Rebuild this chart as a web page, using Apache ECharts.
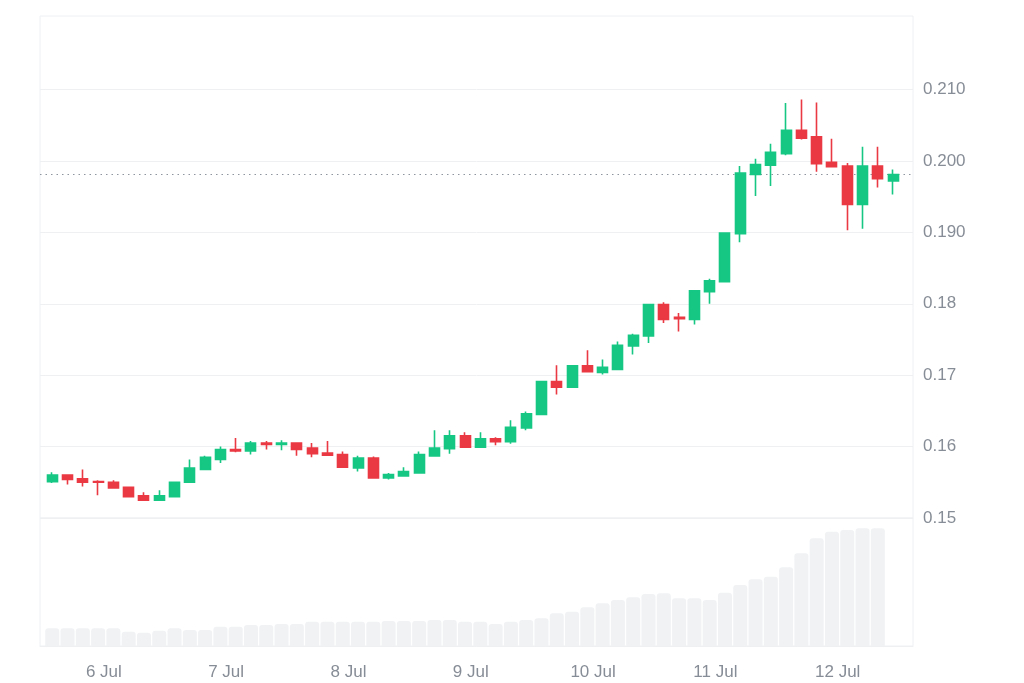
<!DOCTYPE html>
<html>
<head>
<meta charset="utf-8">
<script src="https://cdn.jsdelivr.net/npm/echarts@6/dist/echarts.min.js"></script>
<style>
  html, body { margin: 0; padding: 0; background: #ffffff; }
  #chart { width: 1024px; height: 683px; }
</style>
</head>
<body>
<div id="chart"></div>
<script>
// 3-hour candles, 5 Jul – 12 Jul
const opens  = [0.1551,0.1560,0.1555,0.1551,0.1550,0.1543,0.1531,0.1525,0.1530,0.1550,
                0.1568,0.1582,0.1596,0.1594,0.1605,0.1603,0.1605,0.1598,0.1591,0.1589,
                0.1570,0.1584,0.1556,0.1559,0.1563,0.1587,0.1597,0.1615,0.1599,0.1611,
                0.1607,0.1626,0.1645,0.1691,0.1683,0.1713,0.1704,0.1708,0.1741,0.1755,
                0.1799,0.1781,0.1778,0.1817,0.1831,0.1898,0.1981,0.1994,0.2010,0.2043,
                0.2034,0.1998,0.1993,0.1939,0.1993,0.1972];
const closes = [0.1560,0.1554,0.1550,0.1550,0.1542,0.1530,0.1525,0.1531,0.1550,0.1570,
                0.1585,0.1596,0.1594,0.1605,0.1603,0.1605,0.1596,0.1590,0.1588,0.1571,
                0.1584,0.1556,0.1561,0.1565,0.1589,0.1598,0.1615,0.1599,0.1611,0.1607,
                0.1627,0.1646,0.1691,0.1683,0.1713,0.1705,0.1711,0.1742,0.1756,0.1799,
                0.1778,0.1779,0.1818,0.1832,0.1899,0.1983,0.1995,0.2012,0.2043,0.2032,
                0.1996,0.1992,0.1939,0.1993,0.1975,0.1981];
const lows   = [0.1549,0.1547,0.1544,0.1532,0.1541,0.1530,0.1524,0.1524,0.1530,0.1549,
                0.1568,0.1577,0.1592,0.1589,0.1596,0.1595,0.1587,0.1585,0.1587,0.1570,
                0.1565,0.1556,0.1554,0.1558,0.1562,0.1586,0.1590,0.1599,0.1599,0.1602,
                0.1604,0.1623,0.1645,0.1673,0.1683,0.1704,0.1701,0.1707,0.1729,0.1745,
                0.1773,0.1761,0.1771,0.1800,0.1830,0.1886,0.1951,0.1965,0.2008,0.2030,
                0.1985,0.1992,0.1903,0.1905,0.1963,0.1953];
const highs  = [0.1564,0.1560,0.1568,0.1553,0.1553,0.1543,0.1536,0.1539,0.1551,0.1582,
                0.1587,0.1600,0.1612,0.1608,0.1608,0.1609,0.1605,0.1605,0.1608,0.1593,
                0.1587,0.1586,0.1563,0.1571,0.1593,0.1623,0.1623,0.1620,0.1620,0.1613,
                0.1637,0.1649,0.1691,0.1714,0.1713,0.1735,0.1722,0.1747,0.1758,0.1800,
                0.1802,0.1787,0.1818,0.1835,0.1899,0.1993,0.2003,0.2024,0.2081,0.2086,
                0.2082,0.2031,0.1997,0.2020,0.2020,0.1988];
// rolling volume (relative units)
const volumes = [17.7,17.7,17.7,17.7,17.7,14.3,13.3,15.3,17.7,16,
                 16,19.3,19.3,21,21,22,22,24.3,24.3,24.3,
                 24.3,24.3,25,25,25,26,26,24.3,24.3,22,
                 24.3,26,27.7,32.7,34.3,38.7,42.7,46,48.7,52,
                 52.7,47.7,47.7,46,53.3,61,66.7,69.3,78.7,92.7,
                 107.7,114.3,116,117.7,117.7];
// axis ticks
const yTickValues = [0.15, 0.16, 0.17, 0.18, 0.19, 0.20, 0.21];
const yTickLabels = ['0.15', '0.16', '0.17', '0.18', '0.190', '0.200', '0.210'];
const dayPositions = [3.375, 11.375, 19.375, 27.375, 35.375, 43.375, 51.375]; // in candle-index units
const dayLabels = ['6 Jul', '7 Jul', '8 Jul', '9 Jul', '10 Jul', '11 Jul', '12 Jul'];

const candleData = opens.map((o, i) => [i, o, closes[i], lows[i], highs[i]]);
const volumeData = volumes.map((v, i) => [i, v]);
const lastClose = closes[closes.length - 1];

const GRID = '#eef0f2';
const LABEL = '#878d96';
const FONT = "'Liberation Sans', Arial, sans-serif";
const X_MIN = -0.8, X_MAX = 56.3;

const chart = echarts.init(document.getElementById('chart'), null, { renderer: 'canvas' });
chart.setOption({
  animation: false,
  backgroundColor: '#ffffff',
  grid: [
    { left: 40, right: 111, top: 16, height: 502, show: true, borderColor: GRID, borderWidth: 1, backgroundColor: 'transparent' },
    { left: 40, right: 111, top: 518, height: 128, show: true, borderColor: GRID, borderWidth: 1, backgroundColor: 'transparent' }
  ],
  xAxis: [
    { type: 'value', gridIndex: 0, min: X_MIN, max: X_MAX, show: false },
    { type: 'value', gridIndex: 1, min: X_MIN, max: X_MAX,
      axisLine: { show: true, lineStyle: { color: GRID } },
      axisTick: { show: false },
      splitLine: { show: false },
      axisLabel: {
        customValues: dayPositions,
        margin: 18,
        color: LABEL,
        fontSize: 17,
        fontFamily: FONT,
        formatter: function (v) {
          for (let k = 0; k < dayPositions.length; k++) {
            if (Math.abs(v - dayPositions[k]) < 1e-6) return dayLabels[k];
          }
          return '';
        }
      }
    }
  ],
  yAxis: [
    { type: 'value', gridIndex: 0, position: 'right', min: 0.15, max: 0.2203, interval: 0.01,
      axisLine: { show: false }, axisTick: { show: false }, splitLine: { show: false },
      axisLabel: {
        margin: 10, color: LABEL, fontSize: 17, fontFamily: FONT, showMinLabel: true, showMaxLabel: true,
        formatter: function (v) {
          for (let k = 0; k < yTickValues.length; k++) {
            if (Math.abs(v - yTickValues[k]) < 1e-6) return yTickLabels[k];
          }
          return '';
        }
      }
    },
    { type: 'value', gridIndex: 1, min: 0, max: 128, show: false }
  ],
  series: [
    {
      type: 'bar',
      xAxisIndex: 1, yAxisIndex: 1,
      data: volumeData,
      barWidth: 14,
      itemStyle: { color: '#f0f2f4', borderRadius: [3, 3, 0, 0] },
      silent: true
    },
    {
      type: 'candlestick',
      xAxisIndex: 0, yAxisIndex: 0,
      data: candleData,
      barWidth: 10.5,
      itemStyle: {
        color: '#16c784', color0: '#ea3943',
        borderColor: '#16c784', borderColor0: '#ea3943',
        borderWidth: 1.6
      },
      markLine: {
        silent: true,
        symbol: ['none', 'none'],
        precision: 6,
        z: 1,
        label: { show: false },
        data: yTickValues.map(v => ({ yAxis: v, lineStyle: { color: GRID, width: 1, type: 'solid' } }))
          .concat([{ yAxis: lastClose, lineStyle: { color: '#8f959e', width: 1.2, type: [1.5, 4] } }])
      }
    }
  ]
});
</script>
</body>
</html>
